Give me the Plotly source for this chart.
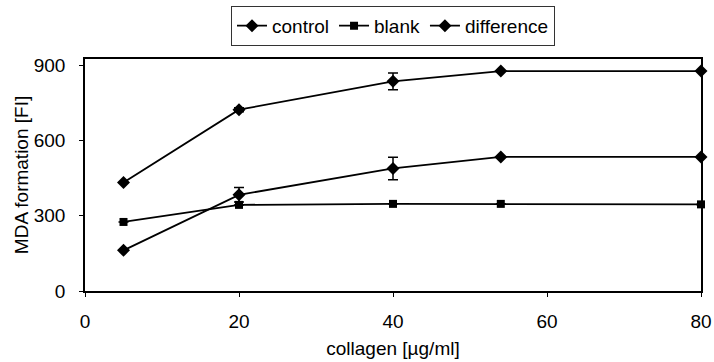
import plotly.graph_objects as go

collagen = [5, 20, 40, 54, 80]
control = [432, 722, 835, 876, 876]
control_err = [0, 8, 33, 0, 0]
blank = [275, 343, 347, 347, 345]
blank_err = [0, 0, 0, 0, 0]
difference = [162, 383, 488, 534, 534]
difference_err = [0, 29, 45, 0, 0]

x_ticks = [0, 20, 40, 60, 80]
y_ticks = [0, 300, 600, 900]

FONT = "Liberation Sans, Arial, sans-serif"

fig = go.Figure()

def add(name, y, err, symbol, size):
    fig.add_trace(go.Scatter(
        x=collagen, y=y, name=name, mode="lines+markers",
        line=dict(color="black", width=1.8),
        marker=dict(symbol=symbol, size=size, color="black"),
        error_y=dict(type="data", array=err, visible=True, color="black",
                     thickness=1.5, width=5),
        cliponaxis=False,
    ))

add("control", control, control_err, "diamond", 10)
add("blank", blank, blank_err, "square", 8)
add("difference", difference, difference_err, "diamond", 10)

fig.update_layout(
    width=714, height=362,
    margin=dict(l=85, r=13, t=59, b=71, autoexpand=False),
    paper_bgcolor="white", plot_bgcolor="white",
    font=dict(family=FONT, size=19, color="black"),
    showlegend=True,
    legend=dict(orientation="h", x=0.5, xanchor="center", y=1.143, yanchor="middle",
                bordercolor="#333", borderwidth=1, bgcolor="white",
                font=dict(family=FONT, size=19, color="black"),
                itemwidth=30, tracegroupgap=0),
)
fig.update_xaxes(range=[0, 80], tickvals=x_ticks, showgrid=False, zeroline=False,
                 showline=True, linecolor="black", linewidth=1.6, mirror=True,
                 ticks="outside", ticklen=4, tickcolor="black", automargin=False,
                 tickfont=dict(family=FONT, size=19), ticklabelstandoff=8,
                 title=dict(text="collagen [µg/ml]", standoff=11,
                            font=dict(family=FONT, size=19)))
fig.update_yaxes(range=[0, 924], tickvals=y_ticks, showgrid=False, zeroline=False,
                 showline=True, linecolor="black", linewidth=1.6, mirror=True,
                 ticks="outside", ticklen=4, tickcolor="black", automargin=False,
                 tickfont=dict(family=FONT, size=19), ticklabelstandoff=10,
                 title=dict(text="MDA formation [FI]", standoff=0,
                            font=dict(family=FONT, size=19)))

fig.write_html("out.html", config={"displayModeBar": False},
               post_script="document.body.style.margin='0';document.body.style.overflow='hidden';")
